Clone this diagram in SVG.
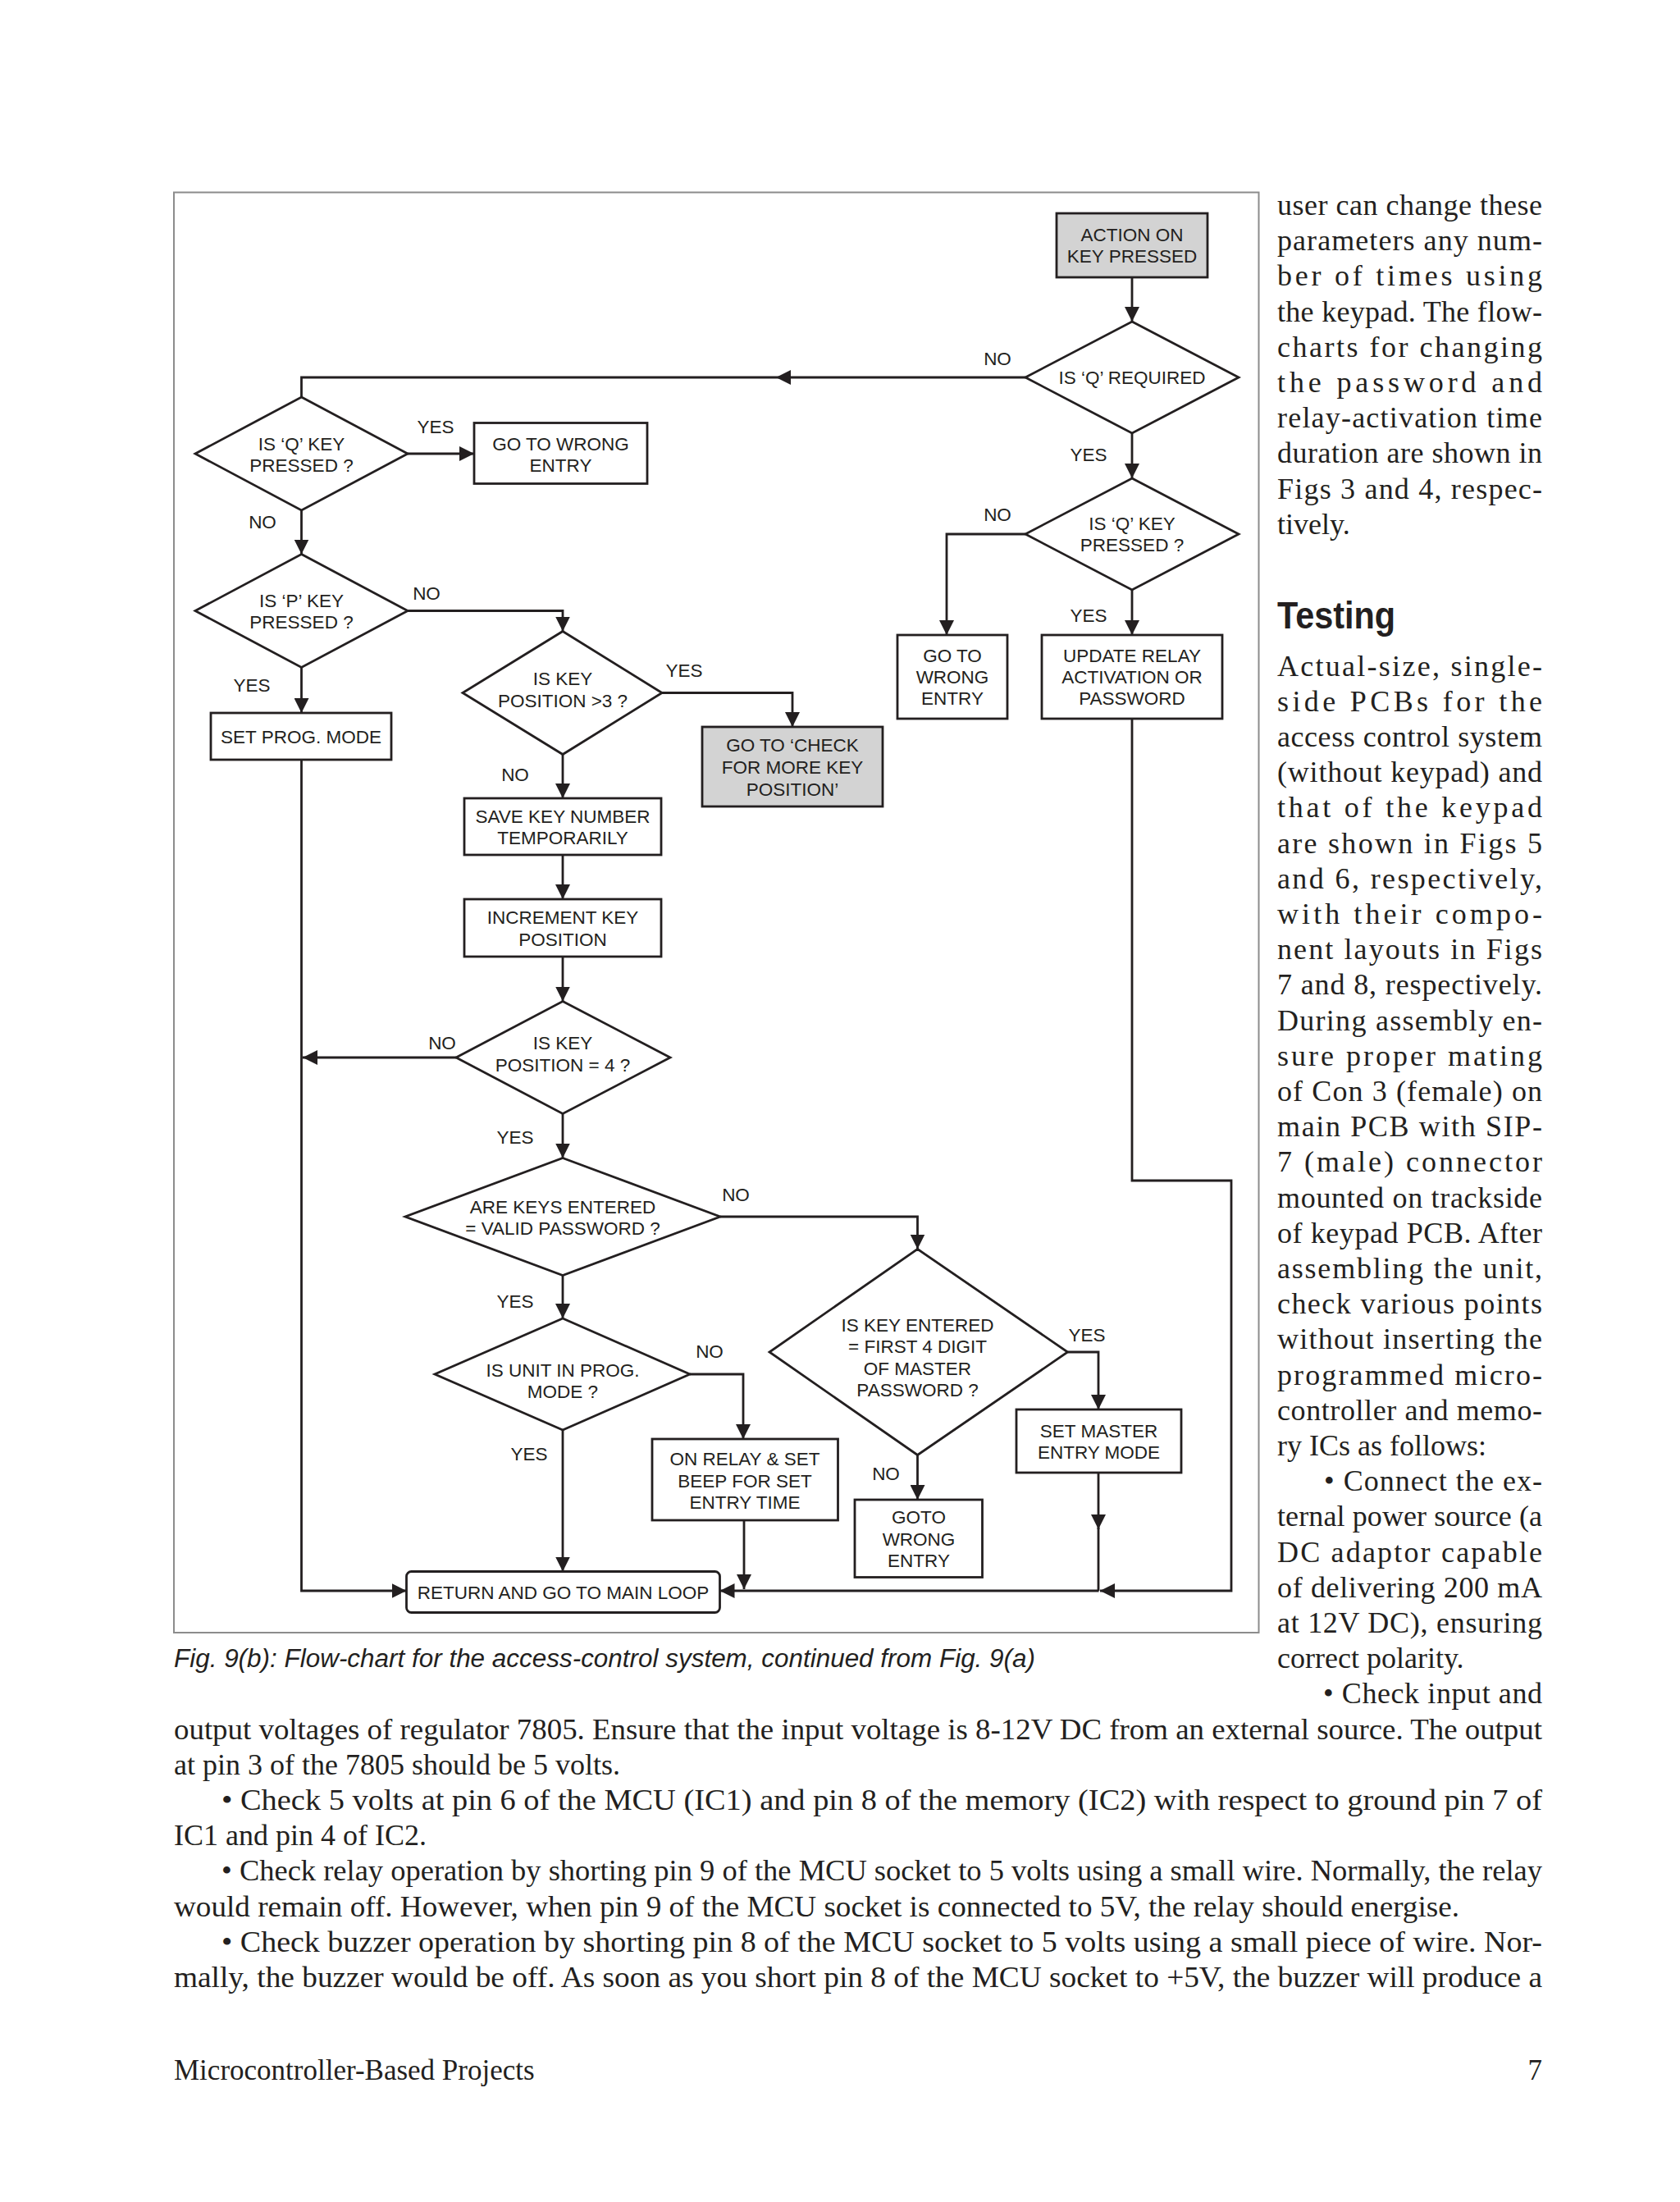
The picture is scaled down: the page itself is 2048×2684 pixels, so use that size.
<svg xmlns="http://www.w3.org/2000/svg" width="2048" height="2684" viewBox="0 0 2048 2684">
<style>
.box{fill:#fff;stroke:#231f20;stroke-width:2.8}
.gbox{fill:#d3d3d3;stroke:#231f20;stroke-width:2.8}
.t{font-family:"Liberation Sans",Arial,sans-serif;font-size:22.5px;fill:#231f20;text-anchor:middle}
.con{fill:none;stroke:#231f20;stroke-width:2.8}
.arr{fill:none;stroke:#231f20;stroke-width:2.8;marker-end:url(#ah)}
.body{font-family:"Liberation Serif","Times New Roman",serif;font-size:36px;fill:#231f20}
</style>
<defs>
<marker id="ah" markerUnits="userSpaceOnUse" markerWidth="18" markerHeight="18" refX="18" refY="9" orient="auto" viewBox="0 0 18 18"><path d="M0,0 L18,9 L0,18 z" fill="#231f20"/></marker>
</defs>
<rect width="2048" height="2684" fill="#fff"/>
<rect x="212" y="234.5" width="1322.5" height="1755.5" fill="none" stroke="#8c8c8c" stroke-width="2"/>

<g id="connectors">
<path class="arr" d="M1380,338 V392"/>
<path class="arr" d="M1250,460 H946"/>
<path class="con" d="M946,460 H367.5 V484"/>
<path class="arr" d="M1380,528 V583"/>
<path class="arr" d="M1250,651 H1154 V774"/>
<path class="arr" d="M1380,719 V774"/>
<path class="arr" d="M1380,876 V1439 H1501 V1939 H1341"/>
<path class="arr" d="M497,553 H578"/>
<path class="arr" d="M367.5,622 V675.5"/>
<path class="arr" d="M497,744.5 H686 V769.5"/>
<path class="arr" d="M367.5,813.5 V869"/>
<path class="arr" d="M807,844.5 H966 V886"/>
<path class="arr" d="M686,919.5 V973"/>
<path class="arr" d="M686,1042 V1096"/>
<path class="arr" d="M686,1166 V1220.5"/>
<path class="arr" d="M556,1289 H369"/>
<path class="arr" d="M686,1357.5 V1411.5"/>
<path class="arr" d="M878,1483 H1118.5 V1522.5"/>
<path class="arr" d="M686,1554.5 V1607"/>
<path class="arr" d="M841,1675 H906 V1754"/>
<path class="arr" d="M686,1743 V1915.5"/>
<path class="arr" d="M367.5,926 V1939 H495.5"/>
<path class="arr" d="M907,1853 V1937"/>
<path class="arr" d="M1339.5,1939 H877.5"/>
<path class="arr" d="M1301.5,1648 H1339 V1718"/>
<path class="arr" d="M1339,1795 V1864"/>
<path class="con" d="M1339,1862 V1939"/>
<path class="arr" d="M1118.5,1773.5 V1828"/>
</g>

<g id="labels">
<text class="t" x="1216" y="445">NO</text>
<text class="t" x="1327" y="562">YES</text>
<text class="t" x="1216" y="635">NO</text>
<text class="t" x="1327" y="758">YES</text>
<text class="t" x="531" y="528">YES</text>
<text class="t" x="320" y="644">NO</text>
<text class="t" x="520" y="731">NO</text>
<text class="t" x="307" y="843">YES</text>
<text class="t" x="834" y="825">YES</text>
<text class="t" x="628" y="952">NO</text>
<text class="t" x="539" y="1279">NO</text>
<text class="t" x="628" y="1394">YES</text>
<text class="t" x="897" y="1464">NO</text>
<text class="t" x="628" y="1594">YES</text>
<text class="t" x="865" y="1655">NO</text>
<text class="t" x="645" y="1780">YES</text>
<text class="t" x="1325" y="1635">YES</text>
<text class="t" x="1080" y="1804">NO</text>
</g>

<g id="n-action">
<rect class="gbox" x="1288" y="260" width="184" height="78"/>
<text class="t" x="1380" y="294">ACTION ON</text>
<text class="t" x="1380" y="320">KEY PRESSED</text>
</g>
<g id="n-q-required">
<polygon class="box" points="1380,392 1510,460 1380,528 1250,460"/>
<text class="t" x="1380" y="468">IS ‘Q’ REQUIRED</text>
</g>
<g id="n-q-key-right">
<polygon class="box" points="1380,583 1510,651 1380,719 1250,651"/>
<text class="t" x="1380" y="646">IS ‘Q’ KEY</text>
<text class="t" x="1380" y="672">PRESSED ?</text>
</g>
<g id="n-wrong-right">
<rect class="box" x="1094" y="774" width="134" height="102"/>
<text class="t" x="1161" y="807">GO TO</text>
<text class="t" x="1161" y="833">WRONG</text>
<text class="t" x="1161" y="859">ENTRY</text>
</g>
<g id="n-update">
<rect class="box" x="1270" y="774" width="220" height="102"/>
<text class="t" x="1380" y="807">UPDATE RELAY</text>
<text class="t" x="1380" y="833">ACTIVATION OR</text>
<text class="t" x="1380" y="859">PASSWORD</text>
</g>
<g id="n-q-key-left">
<polygon class="box" points="367.5,484 497,553 367.5,622 238,553"/>
<text class="t" x="367.5" y="548.5">IS ‘Q’ KEY</text>
<text class="t" x="367.5" y="575">PRESSED ?</text>
</g>
<g id="n-wrong-left">
<rect class="box" x="578" y="515.5" width="211" height="74"/>
<text class="t" x="683.5" y="548.5">GO TO WRONG</text>
<text class="t" x="683.5" y="575">ENTRY</text>
</g>
<g id="n-p-key">
<polygon class="box" points="367.5,675.5 497,744.5 367.5,813.5 238,744.5"/>
<text class="t" x="367.5" y="740">IS ‘P’ KEY</text>
<text class="t" x="367.5" y="766">PRESSED ?</text>
</g>
<g id="n-set-prog">
<rect class="box" x="257" y="869" width="220" height="57"/>
<text class="t" x="367" y="906">SET PROG. MODE</text>
</g>
<g id="n-keypos3">
<polygon class="box" points="686,769.5 807,844.5 686,919.5 564,844.5"/>
<text class="t" x="686" y="835">IS KEY</text>
<text class="t" x="686" y="862">POSITION &gt;3 ?</text>
</g>
<g id="n-check-more">
<rect class="gbox" x="856" y="886" width="220" height="97"/>
<text class="t" x="966" y="916">GO TO ‘CHECK</text>
<text class="t" x="966" y="943">FOR MORE KEY</text>
<text class="t" x="966" y="970">POSITION’</text>
</g>
<g id="n-save">
<rect class="box" x="566" y="973" width="240" height="69"/>
<text class="t" x="686" y="1003">SAVE KEY NUMBER</text>
<text class="t" x="686" y="1029">TEMPORARILY</text>
</g>
<g id="n-increment">
<rect class="box" x="566" y="1096" width="240" height="70"/>
<text class="t" x="686" y="1126">INCREMENT KEY</text>
<text class="t" x="686" y="1153">POSITION</text>
</g>
<g id="n-keypos4">
<polygon class="box" points="686,1220.5 817,1289 686,1357.5 556,1289"/>
<text class="t" x="686" y="1279">IS KEY</text>
<text class="t" x="686" y="1306">POSITION = 4 ?</text>
</g>
<g id="n-valid">
<polygon class="box" points="686,1411.5 878,1483 686,1554.5 494,1483"/>
<text class="t" x="686" y="1478.5">ARE KEYS ENTERED</text>
<text class="t" x="686" y="1505">= VALID PASSWORD ?</text>
</g>
<g id="n-unit-prog">
<polygon class="box" points="686,1607 841,1675 686,1743 530,1675"/>
<text class="t" x="686" y="1678">IS UNIT IN PROG.</text>
<text class="t" x="686" y="1704">MODE ?</text>
</g>
<g id="n-on-relay">
<rect class="box" x="795" y="1754" width="226.5" height="99"/>
<text class="t" x="908" y="1786">ON RELAY &amp; SET</text>
<text class="t" x="908" y="1813">BEEP FOR SET</text>
<text class="t" x="908" y="1839">ENTRY TIME</text>
</g>
<g id="n-master">
<polygon class="box" points="1118.5,1522.5 1301.5,1648 1118.5,1773.5 938,1648"/>
<text class="t" x="1118.5" y="1622.5">IS KEY ENTERED</text>
<text class="t" x="1118.5" y="1649">= FIRST 4 DIGIT</text>
<text class="t" x="1118.5" y="1676">OF MASTER</text>
<text class="t" x="1118.5" y="1702">PASSWORD ?</text>
</g>
<g id="n-set-master">
<rect class="box" x="1239" y="1718" width="201" height="77"/>
<text class="t" x="1339.5" y="1752">SET MASTER</text>
<text class="t" x="1339.5" y="1778">ENTRY MODE</text>
</g>
<g id="n-goto-wrong">
<rect class="box" x="1042" y="1828" width="155.5" height="94.5"/>
<text class="t" x="1120" y="1857">GOTO</text>
<text class="t" x="1120" y="1884">WRONG</text>
<text class="t" x="1120" y="1910">ENTRY</text>
</g>
<g id="n-return">
<rect class="box" x="495.5" y="1915.5" width="382" height="50" rx="6"/>
<text class="t" x="686.5" y="1949">RETURN AND GO TO MAIN LOOP</text>
</g>

<text x="212" y="2032" font-family="Liberation Sans, Arial, sans-serif" font-style="italic" font-size="31" fill="#231f20" textLength="1050" lengthAdjust="spacingAndGlyphs">Fig. 9(b): Flow-chart for the access-control system, continued from Fig. 9(a)</text>

<g class="body">
<text x="1557" y="262" textLength="323">user can change these</text>
<text x="1557" y="305" textLength="323">parameters any num-</text>
<text x="1557" y="348" textLength="323">ber of times using</text>
<text x="1557" y="392" textLength="323">the keypad. The flow-</text>
<text x="1557" y="435" textLength="323">charts for changing</text>
<text x="1557" y="478" textLength="323">the password and</text>
<text x="1557" y="521" textLength="323">relay-activation time</text>
<text x="1557" y="564" textLength="323">duration are shown in</text>
<text x="1557" y="608" textLength="323">Figs 3 and 4, respec-</text>
<text x="1557" y="651">tively.</text>
<text x="1557" y="766" font-family="Liberation Sans, Arial, sans-serif" font-weight="bold" font-size="46" textLength="144" lengthAdjust="spacingAndGlyphs">Testing</text>
<text x="1557" y="824" textLength="323">Actual-size, single-</text>
<text x="1557" y="867" textLength="323">side PCBs for the</text>
<text x="1557" y="910" textLength="323">access control system</text>
<text x="1557" y="953" textLength="323">(without keypad) and</text>
<text x="1557" y="996" textLength="323">that of the keypad</text>
<text x="1557" y="1040" textLength="323">are shown in Figs 5</text>
<text x="1557" y="1083" textLength="323">and 6, respectively,</text>
<text x="1557" y="1126" textLength="323">with their compo-</text>
<text x="1557" y="1169" textLength="323">nent layouts in Figs</text>
<text x="1557" y="1212" textLength="323">7 and 8, respectively.</text>
<text x="1557" y="1256" textLength="323">During assembly en-</text>
<text x="1557" y="1299" textLength="323">sure proper mating</text>
<text x="1557" y="1342" textLength="323">of Con 3 (female) on</text>
<text x="1557" y="1385" textLength="323">main PCB with SIP-</text>
<text x="1557" y="1428" textLength="323">7 (male) connector</text>
<text x="1557" y="1472" textLength="323">mounted on trackside</text>
<text x="1557" y="1515" textLength="323">of keypad PCB. After</text>
<text x="1557" y="1558" textLength="323">assembling the unit,</text>
<text x="1557" y="1601" textLength="323">check various points</text>
<text x="1557" y="1644" textLength="323">without inserting the</text>
<text x="1557" y="1688" textLength="323">programmed micro-</text>
<text x="1557" y="1731" textLength="323">controller and memo-</text>
<text x="1557" y="1774">ry ICs as follows:</text>
<text x="1614" y="1817" textLength="266">• Connect the ex-</text>
<text x="1557" y="1860" textLength="323">ternal power source (a</text>
<text x="1557" y="1904" textLength="323">DC adaptor capable</text>
<text x="1557" y="1947" textLength="323">of delivering 200 mA</text>
<text x="1557" y="1990" textLength="323">at 12V DC), ensuring</text>
<text x="1557" y="2033">correct polarity.</text>
<text x="1613" y="2076" textLength="267">• Check input and</text>
<text x="212" y="2120" textLength="1668" lengthAdjust="spacingAndGlyphs">output voltages of regulator 7805. Ensure that the input voltage is 8-12V DC from an external source. The output</text>
<text x="212" y="2163">at pin 3 of the 7805 should be 5 volts.</text>
<text x="270" y="2206" textLength="1610" lengthAdjust="spacingAndGlyphs">• Check 5 volts at pin 6 of the MCU (IC1) and pin 8 of the memory (IC2) with respect to ground pin 7 of</text>
<text x="212" y="2249">IC1 and pin 4 of IC2.</text>
<text x="270" y="2292" textLength="1610" lengthAdjust="spacingAndGlyphs">• Check relay operation by shorting pin 9 of the MCU socket to 5 volts using a small wire. Normally, the relay</text>
<text x="212" y="2336" textLength="1567" lengthAdjust="spacingAndGlyphs">would remain off. However, when pin 9 of the MCU socket is connected to 5V, the relay should energise.</text>
<text x="270" y="2379" textLength="1610" lengthAdjust="spacingAndGlyphs">• Check buzzer operation by shorting pin 8 of the MCU socket to 5 volts using a small piece of wire. Nor-</text>
<text x="212" y="2422" textLength="1668" lengthAdjust="spacingAndGlyphs">mally, the buzzer would be off. As soon as you short pin 8 of the MCU socket to +5V, the buzzer will produce a</text>
</g>
<text x="212" y="2535" font-family="Liberation Serif, Times New Roman, serif" font-size="35" fill="#231f20">Microcontroller-Based Projects</text>
<text x="1880" y="2535" font-family="Liberation Serif, Times New Roman, serif" font-size="35" fill="#231f20" text-anchor="end">7</text>
</svg>
